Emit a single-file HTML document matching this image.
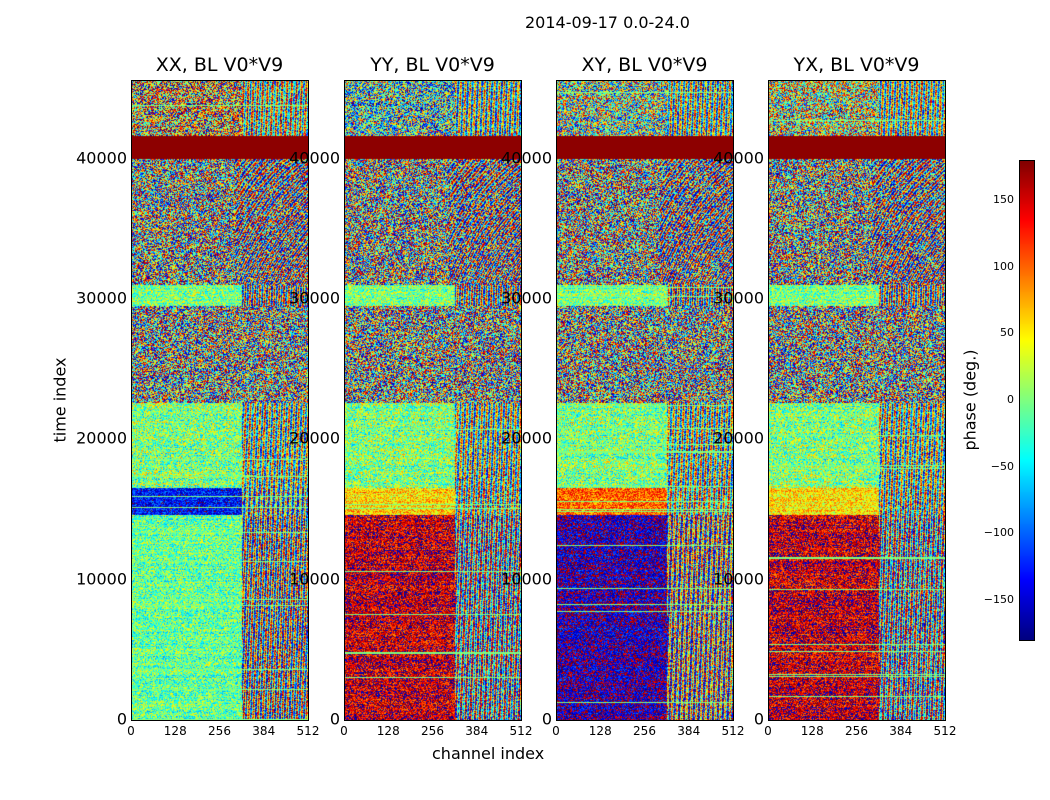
<!DOCTYPE html>
<html><head><meta charset="utf-8">
<style>
body{margin:0;background:#fff;width:1050px;height:800px;overflow:hidden;font-family:"DejaVu Sans","Liberation Sans",sans-serif;}
#wrap{position:relative;width:1050px;height:800px;}
.t{position:absolute;white-space:nowrap;color:#000;}
canvas{position:absolute;}
.frame{position:absolute;border:1px solid #000;box-sizing:border-box;pointer-events:none;}
</style></head>
<body>
<div id="wrap">
<div class="t" style="left:525px;top:13px;font-size:16px;">2014-09-17 0.0-24.0</div>
<div class="t" style="left:60px;top:400px;font-size:16px;transform:translate(-50%,-50%) rotate(-90deg);">time index</div>
<div class="t" style="left:432px;top:744px;font-size:16px;">channel index</div>
<div class="t" style="left:970px;top:400px;font-size:16px;transform:translate(-50%,-50%) rotate(-90deg);">phase (deg.)</div>
</div>
<script>
// ---- data ----
const panelTitles = ["XX, BL V0*V9","YY, BL V0*V9","XY, BL V0*V9","YX, BL V0*V9"];
const panelLeft = [131,344,556,768];
const yTicks = [0,10000,20000,30000,40000];
const xTicks = [0,128,256,384,512];
const cbTicks = [-150,-100,-50,0,50,100,150];
// time bands (time index)
const bandStart = [0,14600,16500,22600,29500,31000,40000,41600];
const bandEnd   = [14600,16500,22600,29500,31000,40000,41600,45600];
// mean phase per band per polarization (deg)
const meanXX = [-10,-130,0,0,0,0,180,90];
const meanYY = [150,60,0,0,0,0,180,-40];
const meanXY = [-160,100,0,0,0,0,180,0];
const meanYX = [150,55,0,0,0,0,180,20];
// noise spread per band (deg), 180 = fully random
const noise  = [60,50,70,180,60,180,0,150];
// fringe amplitude on high channels
const fringe = [150,120,120,0,150,150,0,120];

const TMAX=45600, CH=512;
const plotTop=80, plotBot=720, plotW=177, plotH=640;
const yScale=v=>plotBot-(v/TMAX)*plotH;
const xScale=(c,p)=>panelLeft[p]+c/CH*plotW;
const means=[meanXX,meanYY,meanXY,meanYX];
const cbTop=160,cbBot=640,cbX=1019,cbW=15;
const cbScale=v=>cbBot-(v+180)/360*(cbBot-cbTop);

function jet(v){
  const r=Math.min(Math.max(Math.min(4*v-1.5,-4*v+4.5),0),1);
  const g=Math.min(Math.max(Math.min(4*v-0.5,-4*v+3.5),0),1);
  const b=Math.min(Math.max(Math.min(4*v+0.5,-4*v+2.5),0),1);
  return [r*255|0,g*255|0,b*255|0];
}
function h(a,b,c){let x=(a*374761393+b*668265263+c*2147483647)|0;x=(x^(x>>>13))*1274126177|0;x=x^(x>>>16);return ((x>>>0)%100000)/100000;}

const wrap=document.getElementById('wrap');
function addText(txt,x,y,size,name,anchor){
  const d=document.createElement('div');d.className='t';
  
  
  d.textContent=txt;d.style.fontSize=size+'px';d.style.left=x+'px';d.style.top=y+'px';
  d.style.transform=anchor;wrap.appendChild(d);return d;
}
for(let p=0;p<4;p++){
  const cv=document.createElement('canvas');
  
  
  cv.width=plotW;cv.height=plotH;cv.style.left=panelLeft[p]+'px';cv.style.top=plotTop+'px';
  wrap.appendChild(cv);
  const ctx=cv.getContext('2d');const img=ctx.createImageData(plotW,plotH);
  for(let py=0;py<plotH;py++){
    const tv=TMAX-(py+0.5)/plotH*TMAX;
    let bi=0;for(let k=0;k<bandStart.length;k++){if(tv>=bandStart[k]&&tv<bandEnd[k])bi=k;}
    const rowOff=(h(py,p,7)-0.5)*noise[bi]*0.5;
    const stripe=noise[bi]>0&&noise[bi]<180&&h(py,p,11)<0.04;
    for(let px=0;px<plotW;px++){
      const ch=px/plotW*CH;
      let v;
      if(noise[bi]>=180){
        v=(h(px,py,p)-0.5)*360;
        if(bi===5&&ch>300&&h(px,py,p+9)<0.5) v=170*Math.sin(px*0.3+py*0.9*(px/plotW)+p);
      }
      else{
        v=means[p][bi]+rowOff+(h(px,py,p+3)-0.5)*2*noise[bi];
        if(ch>320&&fringe[bi]>0) v=means[p][bi]*0.3+fringe[bi]*Math.sin(px*1.3+py*0.05+p)+(h(px,py,p+5)-0.5)*160;
        if(stripe) v=0;
      }
      v=((v+180)%360+360)%360-180;
      if(noise[bi]===0) v=175;
      const c=jet((v+180)/360);const i=(py*plotW+px)*4;
      img.data[i]=c[0];img.data[i+1]=c[1];img.data[i+2]=c[2];img.data[i+3]=255;
    }
  }
  ctx.putImageData(img,0,0);
  const f=document.createElement('div');f.className='frame';
  
  
  f.style.left=panelLeft[p]+'px';f.style.top=plotTop+'px';f.style.width=(plotW+1)+'px';f.style.height=(plotH+1)+'px';
  wrap.appendChild(f);
  addText(panelTitles[p],panelLeft[p]+plotW/2,54,19,'panel-title-'+(p+1),'translateX(-50%)');
  yTicks.forEach(v=>addText(String(v),panelLeft[p]-4,yScale(v),16,'y-tick-label','translate(-100%,-55%)'));
  xTicks.forEach(v=>addText(String(v),xScale(v,p),724,12,'x-tick-label','translateX(-50%)'));
}
// colorbar
const cb=document.createElement('canvas');


cb.width=cbW;cb.height=cbBot-cbTop;cb.style.left=cbX+'px';cb.style.top=cbTop+'px';
wrap.appendChild(cb);
const cctx=cb.getContext('2d');
for(let y=0;y<cb.height;y++){const c=jet(1-(y+0.5)/cb.height);cctx.fillStyle=`rgb(${c[0]},${c[1]},${c[2]})`;cctx.fillRect(0,y,cbW,1);}
const cf=document.createElement('div');cf.className='frame';


cf.style.left=cbX+'px';cf.style.top=cbTop+'px';cf.style.width=(cbW+1)+'px';cf.style.height=(cbBot-cbTop+1)+'px';
wrap.appendChild(cf);
cbTicks.forEach(v=>addText(v<0?'\u2212'+(-v):String(v),cbX-5,cbScale(v),11,'colorbar-tick-label','translate(-100%,-55%)'));
</script>
</body></html>
